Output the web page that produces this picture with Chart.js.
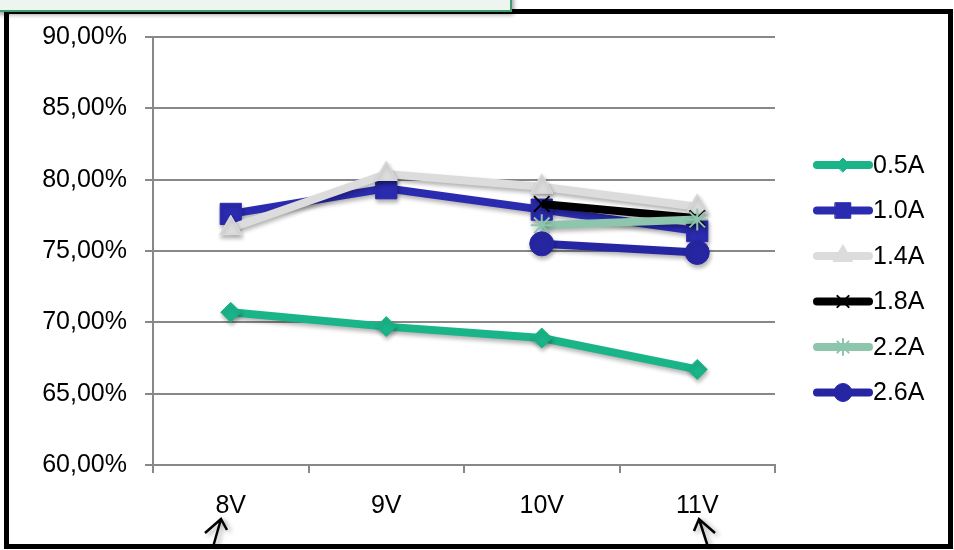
<!DOCTYPE html>
<html>
<head>
<meta charset="utf-8">
<script src="https://cdn.jsdelivr.net/npm/chart.js@4"></script>
<style>
  body { margin: 0; background: #fff; }
  #wrap { position: relative; width: 954px; height: 550px; overflow: hidden; }
  #frame { position: absolute; left: 4px; top: 9px; width: 939px; height: 530px; border: 5px solid #000; pointer-events: none; }
  #note { position: absolute; left: -4px; top: -6px; width: 512px; height: 14px; background: #edf5f0; border: 2px solid #3f9c6e; box-shadow: 2px 3px 4px rgba(0,0,0,0.35); }
  canvas { position: absolute; left: 0; top: 0; }
</style>
</head>
<body>
<div id="wrap">
  <canvas id="myChart" width="954" height="550"></canvas>
  <div id="frame"></div>
  <div id="note"></div>
</div>
<script>
  const categories = ['8V', '9V', '10V', '11V'];
  const yTicks = [60, 65, 70, 75, 80, 85, 90];
  const a05 = [70.7, 69.7, 68.9, 66.7];
  const a10 = [77.6, 79.4, 77.9, 76.4];
  const a14 = [76.6, 80.4, 79.5, 78.1];
  const a18 = [null, null, 78.3, 77.3];
  const a22 = [null, null, 76.8, 77.2];
  const a26 = [null, null, 75.5, 74.9];

  const series = [
    { label: '0.5A', data: a05, color: '#1ab489', style: 'rectRot', r: 10, lr: 7 },
    { label: '1.0A', data: a10, color: '#2b2bb0', style: 'rect', r: 15, lr: 11 },
    { label: '1.4A', data: a14, color: '#dcdcdc', style: 'triangle', r: 13, lr: 11 },
    { label: '1.8A', data: a18, color: '#000000', style: 'crossRot', r: 11, lr: 8 },
    { label: '2.2A', data: a22, color: '#8ec5ad', style: 'star', r: 11, lr: 8 },
    { label: '2.6A', data: a26, color: '#2626a3', style: 'circle', r: 12, lr: 9 }
  ];

  const font = '"Liberation Sans", Arial, sans-serif';

  const shadow = {
    id: 'shadow',
    beforeDatasetsDraw(chart) {
      const c = chart.ctx;
      c.save();
      c.shadowColor = 'rgba(0,0,0,0.3)';
      c.shadowBlur = 4;
      c.shadowOffsetX = 1;
      c.shadowOffsetY = 3;
    },
    afterDatasetsDraw(chart) {
      chart.ctx.restore();
    }
  };

  // legend on the right, line sample with marker, and the two arrows
  const extras = {
    id: 'extras',
    afterDraw(chart) {
      const c = chart.ctx;
      c.save();
      series.forEach((s, i) => {
        const y = 165 + i * 45.5;
        c.strokeStyle = s.color;
        c.lineWidth = 8;
        c.lineCap = 'round';
        c.beginPath();
        c.moveTo(817, y);
        c.lineTo(869, y);
        c.stroke();
        c.fillStyle = s.color;
        c.lineWidth = s.style === 'crossRot' || s.style === 'star' ? 2 : 1;
        Chart.helpers.drawPoint(c, { pointStyle: s.style, radius: s.lr, borderWidth: c.lineWidth, rotation: 0 }, 843, y);
        c.fillStyle = '#000';
        c.font = '25px ' + font;
        c.textBaseline = 'middle';
        c.textAlign = 'left';
        c.fillText(s.label, 873, y + 1);
      });
      c.strokeStyle = '#000';
      c.lineWidth = 2.5;
      c.lineCap = 'butt';
      c.shadowColor = 'rgba(0,0,0,0.35)';
      c.shadowBlur = 5;
      c.shadowOffsetX = 3;
      c.shadowOffsetY = 2;
      [
        [[221, 519], [205, 533], [227, 530], [213, 547]],
        [[699, 519], [694, 531], [715, 533], [708, 547]]
      ].forEach(([tip, l, r, b]) => {
        c.beginPath();
        c.moveTo(l[0], l[1]);
        c.lineTo(tip[0], tip[1]);
        c.lineTo(r[0], r[1]);
        c.moveTo(tip[0], tip[1]);
        c.lineTo(b[0], b[1]);
        c.stroke();
      });
      c.restore();
    }
  };

  new Chart(document.getElementById('myChart'), {
    type: 'line',
    data: {
      labels: categories,
      datasets: series.map((s, i) => ({
        label: s.label,
        data: s.data,
        order: series.length - i,
        borderColor: s.color,
        backgroundColor: s.color,
        borderWidth: 8,
        pointStyle: s.style,
        pointRadius: s.r,
        pointBorderWidth: s.style === 'crossRot' || s.style === 'star' ? 2 : 1,
        pointBorderColor: s.color,
        pointBackgroundColor: s.color,
        tension: 0,
        spanGaps: false
      }))
    },
    options: {
      responsive: false,
      animation: false,
      layout: { padding: { left: 0, top: 37, right: 179, bottom: 0 } },
      plugins: { legend: { display: false }, tooltip: { enabled: false } },
      scales: {
        x: {
          offset: true,
          afterFit: s => { s.height = 85; },
          grid: { offset: true, drawOnChartArea: false, color: '#888', lineWidth: 2, tickLength: 8 },
          border: { color: '#888', width: 2 },
          ticks: { color: '#000', padding: 18, font: { size: 25, family: font } }
        },
        y: {
          min: 60,
          max: 90,
          afterFit: s => { s.width = 153; },
          afterBuildTicks: s => { s.ticks = yTicks.map(v => ({ value: v })); },
          grid: { color: '#888', lineWidth: 2, tickLength: 8 },
          border: { color: '#888', width: 2 },
          ticks: {
            color: '#000',
            padding: 18,
            font: { size: 25, family: font },
            callback: v => v.toFixed(2).replace('.', ',') + '%'
          }
        }
      }
    },
    plugins: [shadow, extras]
  });
</script>
</body>
</html>
